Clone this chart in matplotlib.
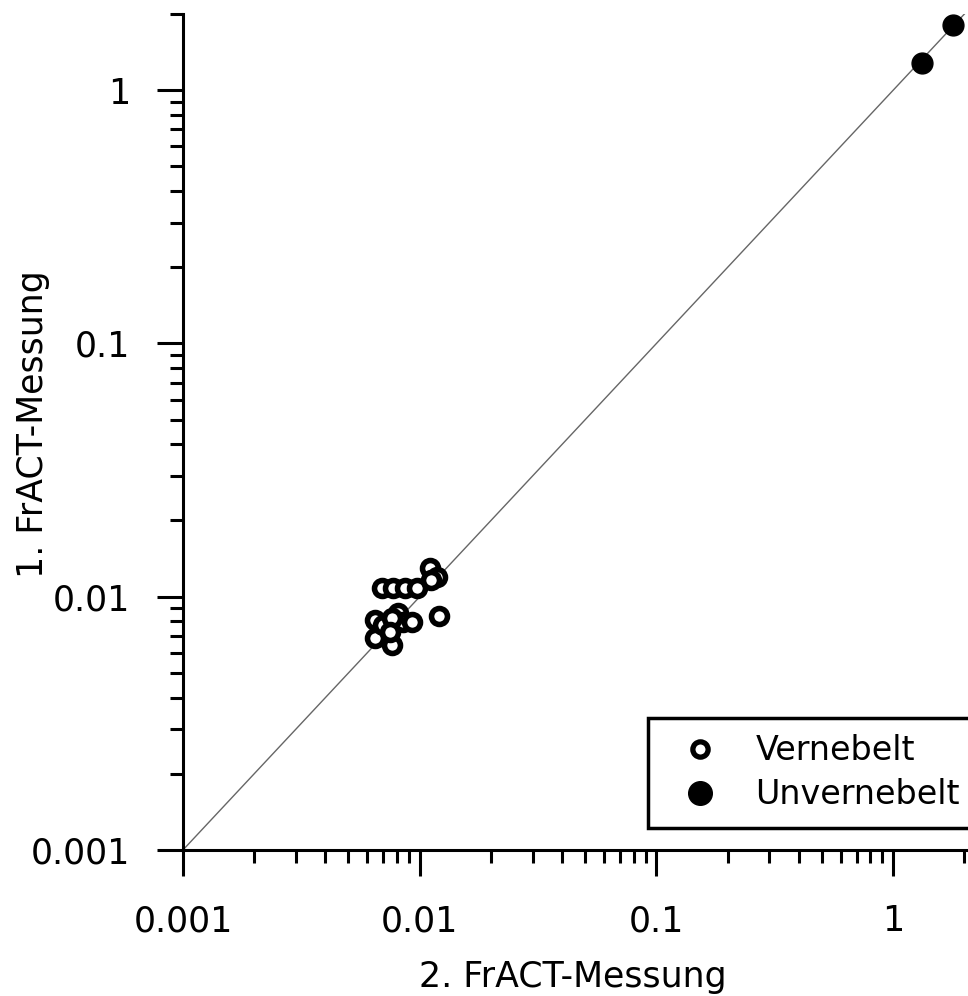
import numpy as np
import matplotlib
matplotlib.use("Agg")
import matplotlib.pyplot as plt
from matplotlib.ticker import LogLocator, FixedLocator, FixedFormatter, NullFormatter

# second measurement (x) vs first measurement (y)
vern_x = [0.00693, 0.00771, 0.00867, 0.00974, 0.01105, 0.01183, 0.01118,
          0.01206, 0.00647, 0.00647, 0.00764, 0.00700, 0.00810, 0.00850,
          0.00928, 0.00764, 0.00749]
vern_y = [0.01082, 0.01082, 0.01082, 0.01082, 0.01298, 0.01196, 0.01164,
          0.00839, 0.00809, 0.00687, 0.00645, 0.00773, 0.00862, 0.00794,
          0.00794, 0.00824, 0.00726]

unv_x = [1.324, 1.79]
unv_y = [1.28, 1.81]

major_ticks = [0.001, 0.01, 0.1, 1]
major_labels = ["0.001", "0.01", "0.1", "1"]

fig = plt.figure(figsize=(9.68, 9.96), dpi=100)
ax = fig.add_axes([0.189, 0.1466, 0.811, 0.8394])

ax.plot([0.001, 3], [0.001, 3], color="#666666", lw=1.0, zorder=1)
ax.plot(vern_x, vern_y, "o", ms=11.5, mfc="white", mec="black", mew=4,
        ls="none", label="Vernebelt", zorder=3, clip_on=False)
ax.plot(unv_x, unv_y, "o", ms=15, mfc="black", mec="black", mew=1,
        ls="none", label="Unvernebelt", zorder=3, clip_on=False)

ax.set_xscale("log")
ax.set_yscale("log")
ax.set_xlim(0.001, 2.07)
ax.set_ylim(0.001, 2.0)

for a in (ax.xaxis, ax.yaxis):
    a.set_major_locator(FixedLocator(major_ticks))
    a.set_major_formatter(FixedFormatter(major_labels))
    a.set_minor_locator(LogLocator(base=10, subs=np.arange(2, 10), numticks=20))
    a.set_minor_formatter(NullFormatter())

ax.tick_params(which="major", direction="out", length=19, width=2.2,
               labelsize=25)
ax.tick_params(axis="x", which="major", pad=20)
ax.tick_params(axis="y", which="major", pad=19)
ax.tick_params(which="minor", direction="out", length=9.5, width=2.2)

for s in ("top", "right"):
    ax.spines[s].set_visible(False)
for s in ("left", "bottom"):
    ax.spines[s].set_linewidth(2.2)

ax.set_xlabel("2. FrACT-Messung", fontsize=25)
ax.set_ylabel("1. FrACT-Messung", fontsize=25)
ax.xaxis.set_label_coords(0.497, -0.1317)
ax.yaxis.set_label_coords(-0.169, 0.509)

leg = ax.legend(loc="lower left", bbox_to_anchor=(0.5924, 0.0263),
                borderaxespad=0, fontsize=24, frameon=True, fancybox=False,
                edgecolor="black", framealpha=1, handlelength=2.1,
                handletextpad=0.62, borderpad=0.5, labelspacing=0.33)
leg.get_frame().set_linewidth(2.5)
leg.legend_handles[0].set_markersize(11)
leg.legend_handles[0].set_markeredgewidth(3.8)
leg.legend_handles[1].set_markersize(17)

fig.savefig("out.png", dpi=100)
